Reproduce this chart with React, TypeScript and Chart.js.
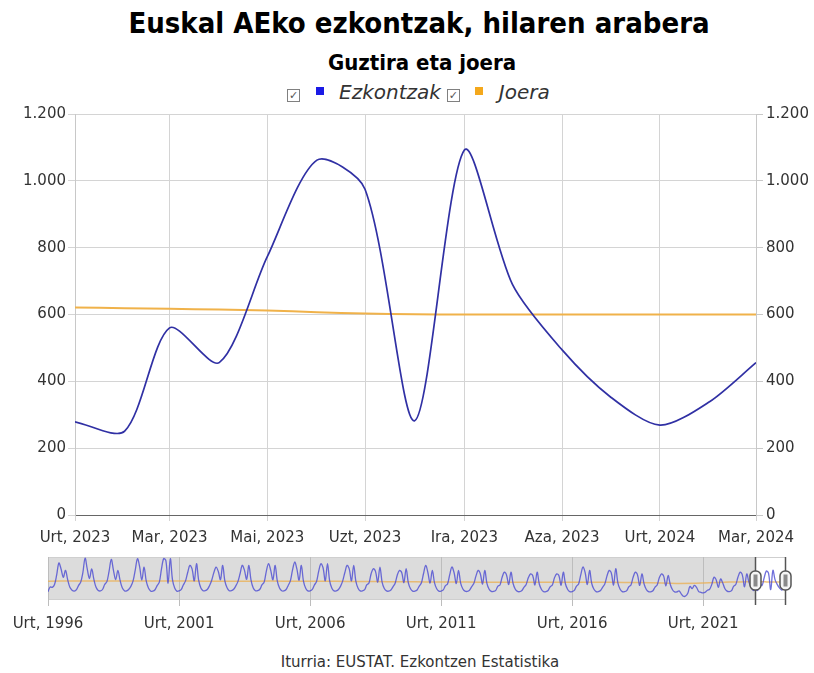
import React, { useEffect, useRef } from "react";
import { Chart, registerables } from "chart.js";

Chart.register(...registerables);

// ---------- DATA ----------
const MONTHS = ["Urt", "Ots", "Mar", "Api", "Mai", "Eka", "Uzt", "Abu", "Ira", "Urr", "Aza", "Abe"];

// Main view: monthly values, Urt 2023 .. Mar 2024
const viewStartYear = 2023;
const ezkontzak = [279, 251, 560, 456, 773, 1062, 975, 282, 1092, 690, 494, 354, 269, 339, 456];
const joera = [621, 619, 617, 615, 612, 607, 603, 601, 600, 600, 600, 600, 600, 600, 600];
const mainTickMonths = [0, 2, 4, 6, 8, 10, 12, 14]; // month offsets from Urt 2023
const yMin = 0;
const yMax = 1200;
const yStep = 200;

// Navigator: monthly history (Urt..Abe), 1996 .. 2022
const historyStartYear = 1996;
const historyMonthly: number[][] = [
  [200, 400, 380, 500, 900, 1400, 1150, 800, 1090, 700, 380, 260], // 1996
  [220, 280, 450, 600, 1000, 1600, 1150, 750, 1150, 720, 380, 250], // 1997
  [230, 300, 500, 620, 1050, 1550, 1100, 700, 1090, 680, 360, 240], // 1998
  [230, 300, 420, 650, 1100, 1580, 1250, 680, 1230, 650, 350, 230], // 1999
  [220, 280, 450, 600, 1150, 1580, 1500, 560, 1580, 700, 350, 220], // 2000
  [230, 290, 480, 650, 1000, 1300, 1150, 650, 1370, 680, 350, 240], // 2001
  [240, 300, 450, 680, 1000, 1230, 1050, 700, 1300, 650, 360, 240], // 2002
  [240, 300, 430, 620, 950, 1300, 1100, 720, 1300, 680, 350, 240], // 2003
  [240, 300, 480, 600, 1050, 1370, 1100, 700, 1300, 650, 350, 240], // 2004
  [230, 290, 450, 650, 1100, 1440, 1150, 680, 1300, 640, 340, 230], // 2005
  [230, 290, 470, 620, 1050, 1370, 1200, 650, 1370, 650, 340, 230], // 2006
  [230, 290, 420, 650, 1000, 1300, 1150, 650, 1300, 640, 340, 230], // 2007
  [230, 280, 480, 560, 950, 1160, 1050, 600, 1230, 600, 330, 230], // 2008
  [220, 270, 400, 550, 900, 1090, 1000, 580, 1160, 580, 320, 220], // 2009
  [220, 270, 420, 560, 950, 1300, 1000, 560, 1090, 580, 320, 220], // 2010
  [220, 270, 440, 520, 900, 1230, 1000, 540, 1090, 560, 310, 220], // 2011
  [210, 260, 400, 540, 850, 1090, 950, 520, 1090, 550, 300, 210], // 2012
  [210, 250, 420, 480, 800, 1015, 900, 500, 1015, 540, 300, 210], // 2013
  [200, 250, 380, 500, 780, 945, 880, 480, 1015, 520, 290, 200], // 2014
  [200, 250, 400, 480, 780, 945, 880, 470, 1015, 520, 290, 200], // 2015
  [200, 250, 420, 520, 900, 1230, 1000, 500, 1090, 540, 300, 200], // 2016
  [200, 250, 380, 520, 850, 1090, 980, 480, 1160, 560, 300, 200], // 2017
  [200, 240, 400, 480, 800, 1015, 900, 460, 945, 520, 290, 200], // 2018
  [190, 240, 380, 480, 780, 945, 850, 440, 875, 500, 280, 190], // 2019
  [190, 230, 110, 5, 15, 130, 420, 330, 460, 380, 200, 170], // 2020
  [150, 180, 260, 300, 500, 800, 700, 380, 730, 560, 320, 220], // 2021
  [200, 240, 420, 500, 800, 1015, 900, 400, 945, 600, 380, 250], // 2022
];
// Navigator trend, value at Urt of each year 1996 .. 2022
const historyTrend = [
  640, 645, 650, 650, 650, 645, 640, 640, 640, 640, 635, 630, 625,
  615, 610, 605, 600, 595, 590, 590, 595, 595, 585, 570, 545, 560, 600,
];
const navTickYears = [1996, 2001, 2006, 2011, 2016, 2021];
const navEnd = { year: 2024, month: 2 };
const navYMin = -150;
const navYMax = 1650;

// ---------- HELPERS ----------
const FONT = "'DejaVu Sans', Verdana, sans-serif";
const TITLE_FONT = "'DejaVu Sans Condensed', 'DejaVu Sans', sans-serif";
const dayNum = (y: number, m: number) => Date.UTC(y, m, 1) / 86400000;
const monthLabel = (d: number) => {
  const dt = new Date(Math.round(d) * 86400000);
  return `${MONTHS[dt.getUTCMonth()]}, ${dt.getUTCFullYear()}`;
};
const fmtThousands = (v: number) => String(v).replace(/\B(?=(\d{3})+(?!\d))/g, ".");

export default function App() {
  const mainRef = useRef<HTMLCanvasElement>(null);
  const navRef = useRef<HTMLCanvasElement>(null);

  useEffect(() => {
    document.body.style.margin = "0";
    const mainX0 = dayNum(viewStartYear, 0);
    const mainX1 = dayNum(viewStartYear, ezkontzak.length - 1);

    const tickFont = { family: FONT, size: 15 };

    const main = new Chart(mainRef.current!, {
      type: "line",
      data: {
        datasets: [
          {
            label: "Ezkontzak",
            data: ezkontzak.map((v, i) => ({ x: dayNum(viewStartYear, i), y: v })),
            borderColor: "#3030a4",
            borderWidth: 1.7,
            pointRadius: 0,
            tension: 0.28,
            fill: false,
          },
          {
            label: "Joera",
            data: joera.map((v, i) => ({ x: dayNum(viewStartYear, i), y: v })),
            borderColor: "#f0b24a",
            borderWidth: 2,
            pointRadius: 0,
            tension: 0.4,
            fill: false,
          },
        ],
      },
      options: {
        animation: false,
        responsive: false,
        devicePixelRatio: 1,
        layout: { padding: { top: 14, left: 0, right: 0, bottom: 0 } },
        plugins: { legend: { display: false }, tooltip: { enabled: false } },
        scales: {
          x: {
            type: "linear",
            min: mainX0,
            max: mainX1,
            afterBuildTicks: (s: any) => {
              s.ticks = mainTickMonths.map((k) => ({ value: dayNum(viewStartYear, k) }));
            },
            afterFit: (s: any) => {
              s.height = 45;
            },
            grid: { color: "#d4d4d4", tickLength: 6 },
            border: { color: "#666", width: 1 },
            ticks: {
              autoSkip: false,
              maxRotation: 0,
              color: "#333",
              font: tickFont,
              padding: 8,
              callback: (v: any) => monthLabel(Number(v)),
            },
          },
          y: {
            position: "left",
            min: yMin,
            max: yMax,
            afterFit: (s: any) => {
              s.width = 75;
            },
            grid: { color: "#d4d4d4", tickLength: 7 },
            border: { color: "#c8c8c8" },
            ticks: {
              stepSize: yStep,
              color: "#333",
              font: tickFont,
              padding: 2,
              callback: (v: any) => fmtThousands(Number(v)),
            },
          },
          y2: {
            position: "right",
            min: yMin,
            max: yMax,
            afterFit: (s: any) => {
              s.width = 58;
            },
            grid: { drawOnChartArea: false, color: "#c8c8c8", tickLength: 7 },
            border: { color: "#c8c8c8" },
            ticks: {
              stepSize: yStep,
              color: "#333",
              font: tickFont,
              padding: 3,
              callback: (v: any) => fmtThousands(Number(v)),
            },
          },
        },
      },
    } as any);

    // Navigator data
    const navSeries: { x: number; y: number }[] = [];
    historyMonthly.forEach((row, yi) =>
      row.forEach((v, m) => navSeries.push({ x: dayNum(historyStartYear + yi, m), y: v }))
    );
    ezkontzak.forEach((v, i) => navSeries.push({ x: dayNum(viewStartYear, i), y: v }));
    const navTrend: { x: number; y: number }[] = historyTrend.map((v, yi) => ({
      x: dayNum(historyStartYear + yi, 0),
      y: v,
    }));
    joera.forEach((v, i) => navTrend.push({ x: dayNum(viewStartYear, i), y: v }));

    const navPlugin = {
      id: "navDecor",
      beforeDraw: (chart: any) => {
        const { ctx, chartArea: a, scales } = chart;
        const selX = scales.x.getPixelForValue(mainX0);
        ctx.save();
        ctx.fillStyle = "#dcdcdc";
        ctx.fillRect(a.left, a.top, selX - a.left, a.bottom - a.top);
        ctx.fillStyle = "#ffffff";
        ctx.fillRect(selX, a.top, a.right - selX, a.bottom - a.top);
        ctx.strokeStyle = "#cfcfcf";
        ctx.lineWidth = 1;
        ctx.strokeRect(a.left + 0.5, a.top + 0.5, a.right - a.left - 1, a.bottom - a.top - 1);
        ctx.restore();
      },
      afterDraw: (chart: any) => {
        const { ctx, chartArea: a, scales } = chart;
        const xs = [scales.x.getPixelForValue(mainX0), scales.x.getPixelForValue(mainX1)];
        ctx.save();
        xs.forEach((x0) => {
          const x = Math.round(x0) - 0.5;
          ctx.strokeStyle = "#555";
          ctx.lineWidth = 1.5;
          ctx.beginPath();
          ctx.moveTo(x, a.top);
          ctx.lineTo(x, a.bottom + 5);
          ctx.stroke();
          const w = 11;
          const h = 19;
          const cy = (a.top + a.bottom) / 2 + 2;
          ctx.beginPath();
          (ctx as any).roundRect(x - w / 2, cy - h / 2, w, h, 5);
          ctx.fillStyle = "#f5f5f5";
          ctx.fill();
          ctx.lineWidth = 1.5;
          ctx.strokeStyle = "#555";
          ctx.stroke();
          ctx.fillStyle = "#8a8a8a";
          ctx.fillRect(x - 2, cy - 6, 4, 12);
        });
        ctx.restore();
      },
    };

    const nav = new Chart(navRef.current!, {
      type: "line",
      data: {
        datasets: [
          {
            data: navSeries,
            borderColor: "rgba(75,75,210,0.8)",
            borderWidth: 1.3,
            pointRadius: 0,
            tension: 0.35,
          },
          {
            data: navTrend,
            borderColor: "rgba(235,175,80,0.75)",
            borderWidth: 1.5,
            pointRadius: 0,
            tension: 0.4,
          },
        ],
      },
      options: {
        animation: false,
        responsive: false,
        devicePixelRatio: 1,
        layout: { padding: { top: 7, left: 48, right: 28, bottom: 0 } },
        plugins: { legend: { display: false }, tooltip: { enabled: false } },
        scales: {
          x: {
            type: "linear",
            min: dayNum(historyStartYear, 0),
            max: dayNum(navEnd.year, navEnd.month),
            afterBuildTicks: (s: any) => {
              s.ticks = navTickYears.map((y) => ({ value: dayNum(y, 0) }));
            },
            afterFit: (s: any) => {
              s.height = 40;
            },
            grid: { color: "#bdbdbd", tickLength: 6 },
            border: { display: false },
            ticks: {
              autoSkip: false,
              maxRotation: 0,
              color: "#333",
              font: tickFont,
              padding: 9,
              callback: (v: any) => monthLabel(Number(v)),
            },
          },
          y: { display: false, min: navYMin, max: navYMax },
        },
      },
      plugins: [navPlugin],
    } as any);

    return () => {
      main.destroy();
      nav.destroy();
    };
  }, []);

  const legendBox: React.CSSProperties = {
    display: "inline-block",
    boxSizing: "border-box",
    width: 13,
    height: 13,
    border: "1px solid #808080",
    fontSize: 11,
    lineHeight: "11px",
    textAlign: "center",
    color: "#555",
    fontStyle: "normal",
    background: "#fff",
    position: "relative",
    top: 3,
  };
  const swatch = (c: string): React.CSSProperties => ({
    display: "inline-block",
    width: 8,
    height: 8,
    background: c,
    position: "relative",
    top: -1,
  });

  return (
    <div
      style={{
        position: "absolute",
        left: 0,
        top: 0,
        width: 814,
        height: 673,
        background: "#fff",
        fontFamily: FONT,
        overflow: "hidden",
      }}
    >
      <div
        style={{
          position: "absolute",
          left: 12,
          top: 6,
          width: 814,
          textAlign: "center",
          fontFamily: TITLE_FONT,
          fontWeight: "bold",
          fontSize: 29,
          lineHeight: "34px",
          color: "#000",
          whiteSpace: "nowrap",
        }}
      >
        Euskal AEko ezkontzak, hilaren arabera
      </div>
      <div
        style={{
          position: "absolute",
          left: 15,
          top: 50,
          width: 814,
          textAlign: "center",
          fontFamily: TITLE_FONT,
          fontWeight: "bold",
          fontSize: 22,
          lineHeight: "26px",
          color: "#000",
          whiteSpace: "nowrap",
        }}
      >
        Guztira eta joera
      </div>
      <div
        style={{
          position: "absolute",
          left: 287,
          top: 80,
          height: 24,
          display: "flex",
          alignItems: "center",
          fontStyle: "italic",
          fontSize: 20,
          lineHeight: "24px",
          color: "#333",
          whiteSpace: "nowrap",
        }}
      >
        <span style={{ ...legendBox, marginRight: 16 }}>✓</span>
        <span style={{ ...swatch("#1a1ae6"), marginRight: 15 }} />
        <span style={{ marginRight: 6 }}>Ezkontzak</span>
        <span style={{ ...legendBox, marginRight: 15 }}>✓</span>
        <span style={{ ...swatch("#f4a81c"), marginRight: 16 }} />
        <span>Joera</span>
      </div>
      <canvas
        ref={mainRef}
        width={814}
        height={460}
        style={{ position: "absolute", left: 0, top: 100, width: 814, height: 460 }}
      />
      <canvas
        ref={navRef}
        width={814}
        height={90}
        style={{ position: "absolute", left: 0, top: 550, width: 814, height: 90 }}
      />
      <div
        style={{
          position: "absolute",
          left: 13,
          top: 653,
          width: 814,
          textAlign: "center",
          fontSize: 15,
          color: "#333",
          whiteSpace: "nowrap",
        }}
      >
        Iturria: EUSTAT. Ezkontzen Estatistika
      </div>
    </div>
  );
}
